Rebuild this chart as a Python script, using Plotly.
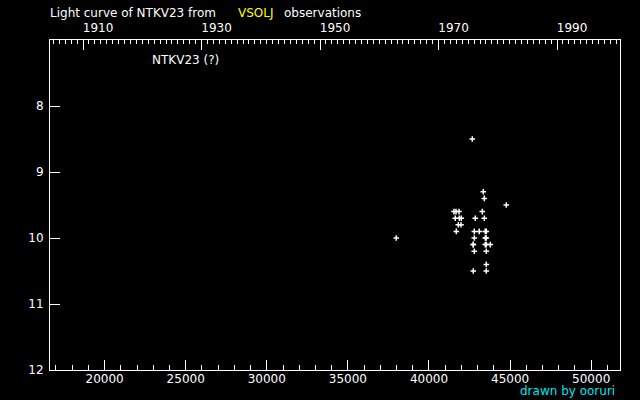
import datetime
import plotly.graph_objects as go

# Julian Date - 2400000 of each VSOLJ estimate, and its visual magnitude
jd = [37984, 41541, 41665, 41850, 41621, 41868, 41991, 41806, 41973, 41683,
      42670, 42731, 42793, 42854, 43101, 42731, 42793, 42731, 42793,
      43286, 43348, 43410, 43410, 43471, 43533, 43471, 43533, 43471, 43533,
      43779, 43533, 43533, 43533, 44766]
mag = [10.0, 9.6, 9.6, 9.6, 9.7, 9.7, 9.7, 9.8, 9.8, 9.9,
       8.5, 10.1, 9.9, 9.7, 9.9, 10.5, 10.0, 10.1, 10.2,
       9.6, 9.3, 9.4, 9.7, 9.9, 9.9, 10.0, 10.0, 10.1, 10.1,
       10.1, 10.2, 10.4, 10.5, 9.5]

year_major = list(range(1910, 2001, 10))
year_labels = [1910, 1930, 1950, 1970, 1990]
year_minor = list(range(1905, 2002))
mag_ticks = [8, 9, 10, 11, 12]

x_range = [16634, 51776]
FONT = "DejaVu Sans"


def year_to_jd(y):
    # JD - 2400000 at the start of the year
    return (datetime.date(y, 1, 1) - datetime.date(1858, 11, 17)).days + 0.5


fig = go.Figure()
fig.add_trace(go.Scatter(
    x=jd, y=mag, mode="markers",
    marker=dict(symbol="cross-thin", size=4, line=dict(color="white", width=1.5)),
    showlegend=False, hoverinfo="skip",
))
# invisible trace so the top (year) axis is drawn
fig.add_trace(go.Scatter(x=[jd[0]], y=[mag[0]], xaxis="x2", mode="markers",
                         marker=dict(opacity=0), showlegend=False, hoverinfo="skip"))

axis_common = dict(showgrid=False, zeroline=False, linecolor="white", linewidth=1,
                   tickcolor="white", tickwidth=1,
                   tickfont=dict(family=FONT, size=12, color="white"))

fig.update_layout(
    width=640, height=400,
    paper_bgcolor="black", plot_bgcolor="black",
    margin=dict(l=50, r=20, t=40, b=30),
    xaxis=dict(range=x_range, showline=True, mirror=True, ticks="inside",
               ticklen=10, tickmode="linear", tick0=0, dtick=5000, tickformat="d",
               ticklabelstandoff=-2,
               minor=dict(ticks="inside", ticklen=5, dtick=1000, tickcolor="white"),
               **axis_common),
    xaxis2=dict(range=x_range, overlaying="x", side="top", showline=True,
                ticks="inside", ticklen=10,
                tickmode="array",
                tickvals=[year_to_jd(y) for y in year_major],
                ticktext=[str(y) if y in year_labels else "" for y in year_major],
                ticklabelshift=15, ticklabelstandoff=2,
                minor=dict(ticks="inside", ticklen=4, tickcolor="white",
                           tickmode="array",
                           tickvals=[year_to_jd(y) for y in year_minor]),
                **axis_common),
    yaxis=dict(range=[12, 7], showline=True, mirror=True, ticks="inside",
               ticklen=10, tickmode="array", tickvals=mag_ticks,
               ticklabelstandoff=3,
               **axis_common),
)

ann_font = dict(family=FONT, size=12, color="white")
fig.add_annotation(x=-0.003, y=1.083, xref="paper", yref="paper", xanchor="left",
                   yanchor="middle", showarrow=False, font=ann_font,
                   text="Light curve of NTKV23 from")
fig.add_annotation(x=0.3263, y=1.083, xref="paper", yref="paper", xanchor="left",
                   yanchor="middle", showarrow=False,
                   font=dict(family=FONT, size=12, color="#ffff00"), text="VSOLJ")
fig.add_annotation(x=0.407, y=1.083, xref="paper", yref="paper", xanchor="left",
                   yanchor="middle", showarrow=False, font=ann_font,
                   text="observations")
fig.add_annotation(x=0.1754, y=0.938, xref="paper", yref="paper", xanchor="left",
                   yanchor="middle", showarrow=False, font=ann_font,
                   text="NTKV23 (?)")
fig.add_annotation(x=0.9947, y=-0.064, xref="paper", yref="paper", xanchor="right",
                   yanchor="middle", showarrow=False,
                   font=dict(family=FONT, size=12, color="#00e5f0"),
                   text="drawn by ooruri")

# drop the page's default body margin so the chart sits at the window's corner
fig.write_html("out.html", config={"displayModeBar": False},
               post_script="document.body.style.margin='0';document.body.style.background='black';")
